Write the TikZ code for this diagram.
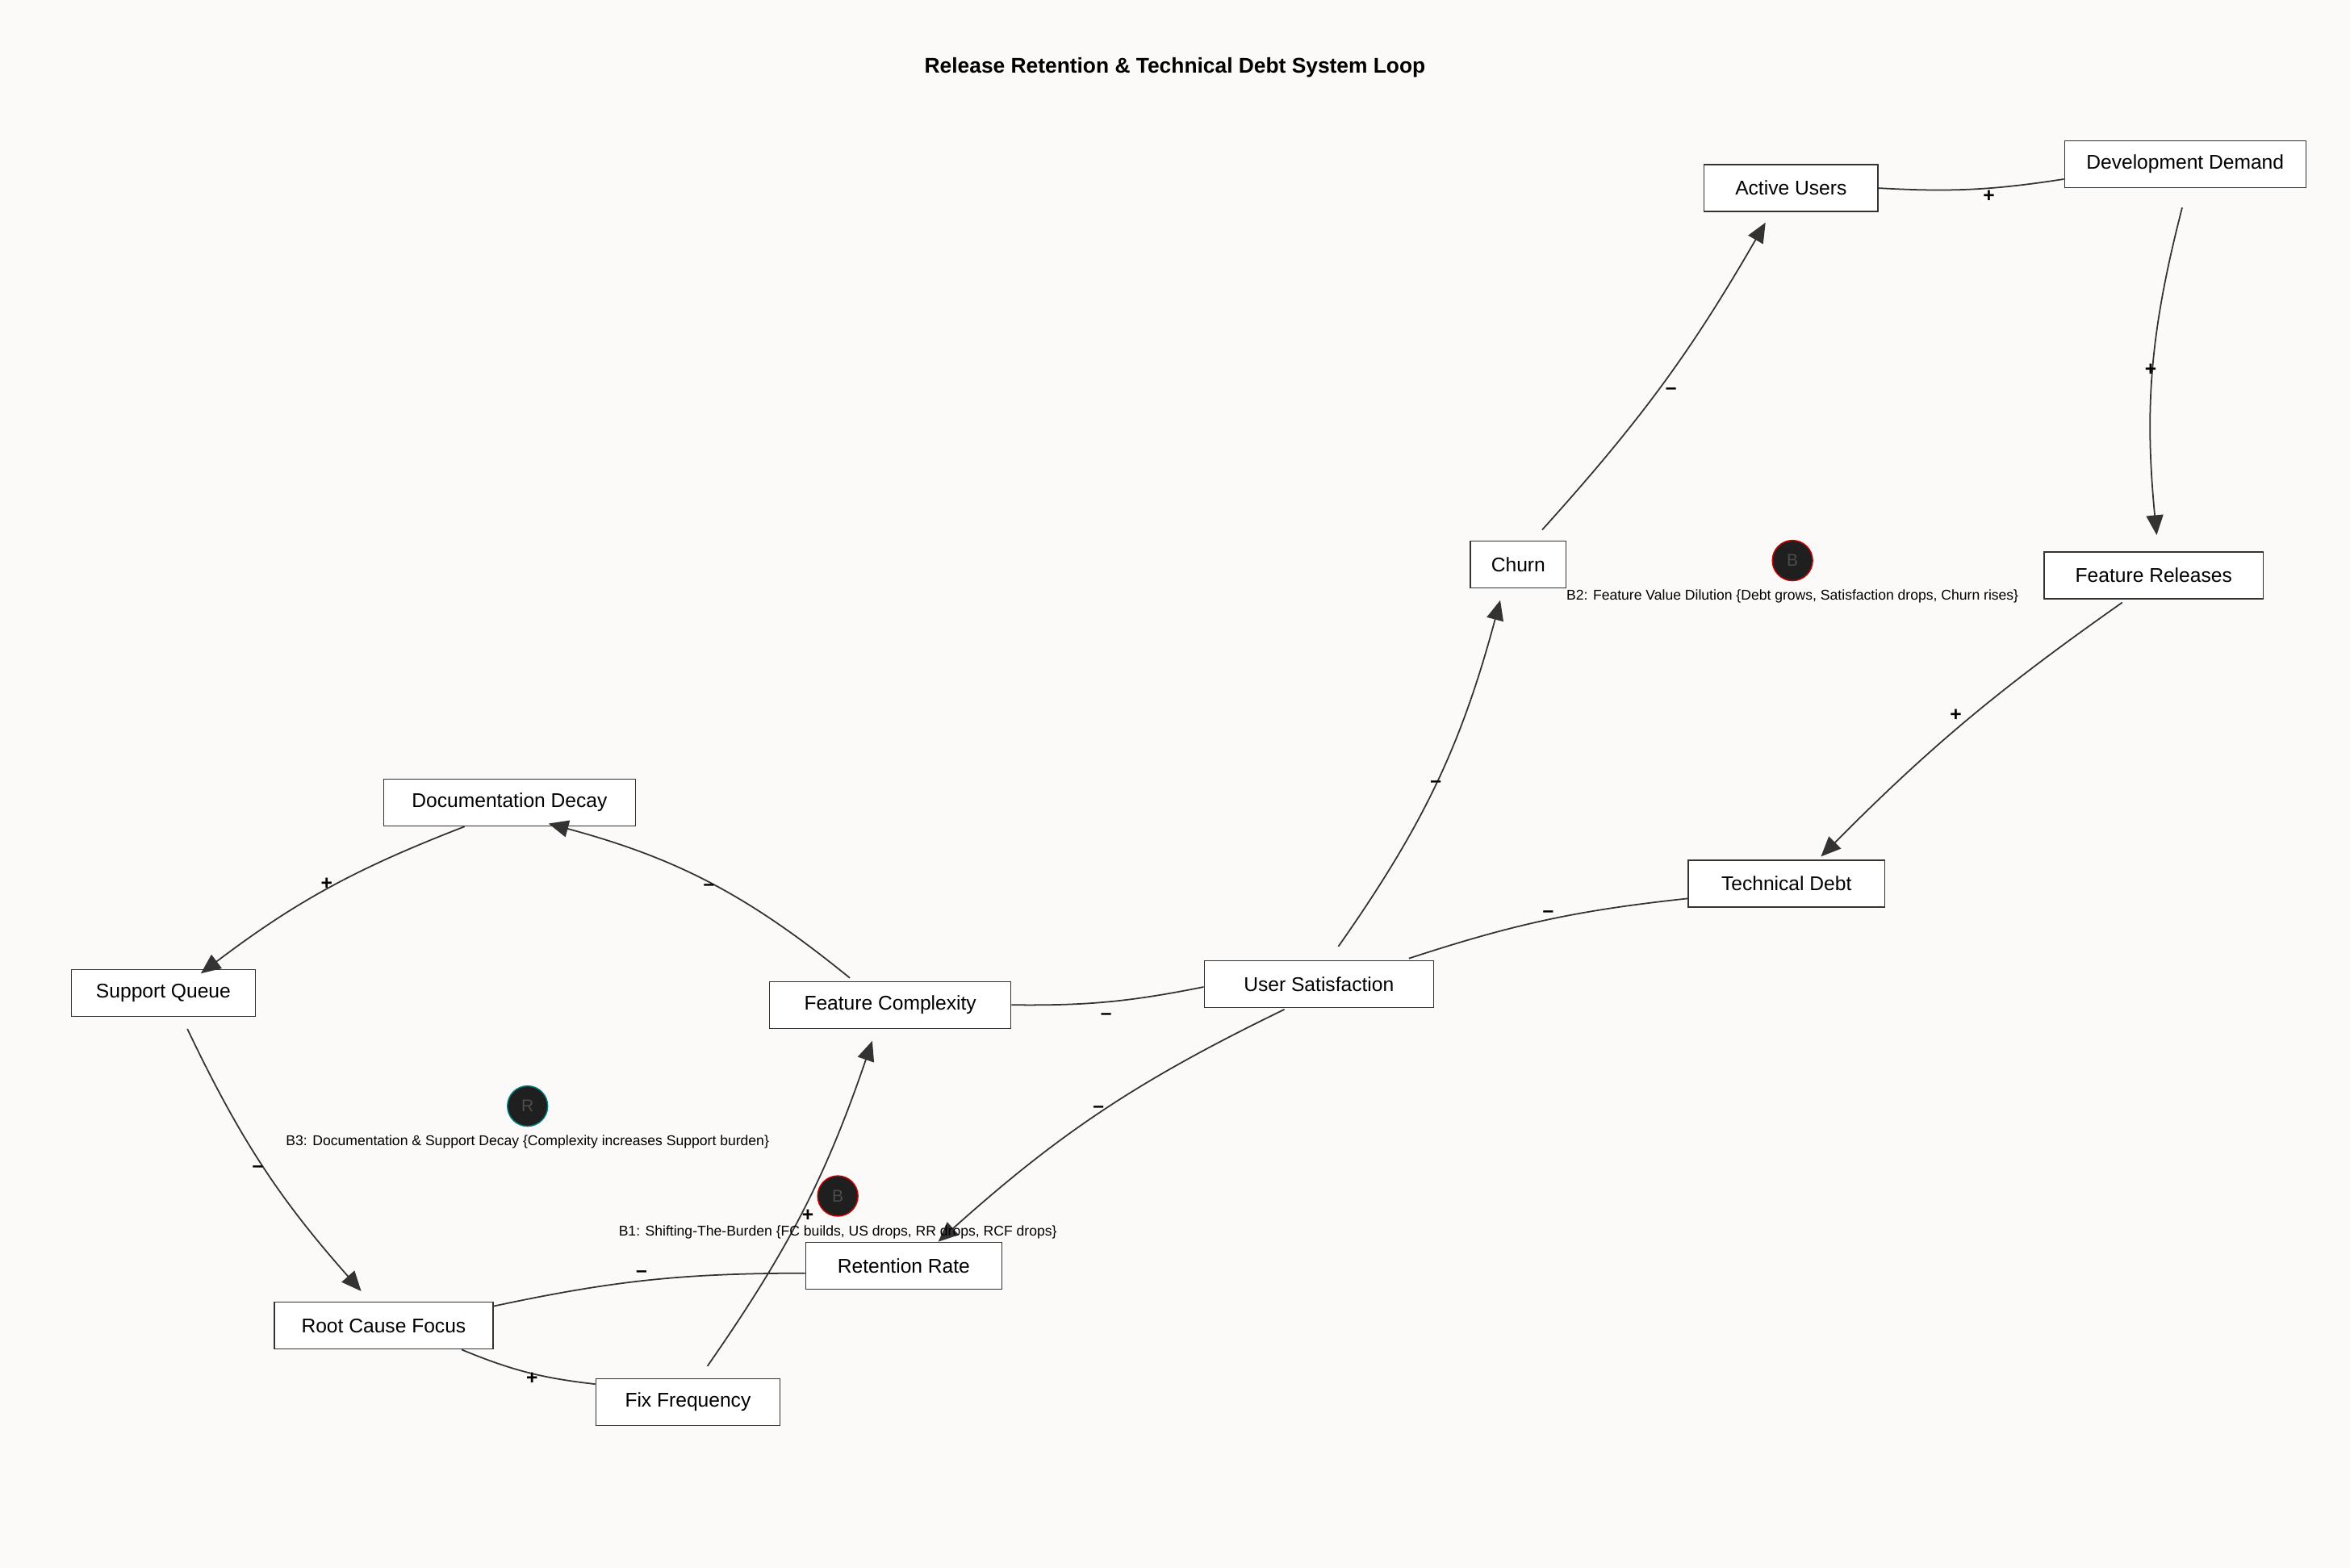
\documentclass[tikz,border=0pt]{standalone}
\usepackage{fontspec}
\setmainfont{Liberation Sans}
\usetikzlibrary{arrows.meta}
\definecolor{bgpaper}{HTML}{FBFAF8}
\definecolor{ink}{HTML}{333333}
\begin{document}
\begin{tikzpicture}[
        x=0.018571cm, y=-0.018571cm,
        var/.style={rectangle, draw=ink, fill=white, inner sep=0pt, minimum height=0.58cm, font=\fontsize{7}{8}\selectfont},
        sgn/.style={font=\fontsize{7}{8}\selectfont\bfseries},
        link/.style={ink, line width=0.5pt},
        arrow/.style={link, -{Triangle[length=7pt, width=6pt]}},
        loopmark/.style={circle, fill=black!88, draw=#1, minimum size=0.5cm, inner sep=0pt, font=\fontsize{6}{7}\selectfont, text=black!70},
        looptxt/.style={font=\fontsize{5}{6}\selectfont}
    ]
        \fill[bgpaper] (0,0) rectangle (1568,1046);
        \node[font=\fontsize{7.5}{9}\selectfont\bfseries] (title) at (784,45) {Release Retention \& Technical Debt System Loop};

        % Variables
        \node[var, minimum width=116*0.018571cm] (au) at (1195,125.5) {Active Users};
        \node[var, minimum width=161*0.018571cm] (dd) at (1458,109.5) {Development Demand};
        \node[var, minimum width=64*0.018571cm] (ch) at (1013,376.5) {Churn};
        \node[var, minimum width=146*0.018571cm] (fr) at (1437,384) {Feature Releases};
        \node[var, minimum width=131*0.018571cm] (td) at (1192,589.5) {Technical Debt};
        \node[var, minimum width=153*0.018571cm] (us) at (880,656.5) {User Satisfaction};
        \node[var, minimum width=161*0.018571cm] (fc) at (594,670.5) {Feature Complexity};
        \node[var, minimum width=168*0.018571cm] (doc) at (340,535.5) {Documentation Decay};
        \node[var, minimum width=123*0.018571cm] (sq) at (109,662.5) {Support Queue};
        \node[var, minimum width=146*0.018571cm] (rcf) at (256,884.5) {Root Cause Focus};
        \node[var, minimum width=123*0.018571cm] (ff) at (459,935.5) {Fix Frequency};
        \node[var, minimum width=131*0.018571cm] (rr) at (603,844.5) {Retention Rate};

        % Links
        \draw[link] ([shift={(0,0)}]au.east) to[bend right=6] ([shift={(0,10)}]dd.west);
        \draw[arrow] ([shift={(-2,13)}]dd.south) to[bend right=10] ([shift={(2,-11)}]fr.north);
        \draw[arrow] ([shift={(-21,2)}]fr.south) to[bend right=5] ([shift={(23,-2)}]td.north);
        \draw[link] ([shift={(0,10)}]td.west) to[bend right=6] ([shift={(60,-1)}]us.north);
        \draw[arrow] ([shift={(13,-9)}]us.north) to[bend right=10] ([shift={(-12,8)}]ch.south);
        \draw[arrow] ([shift={(16,-7)}]ch.north) to[bend right=6] ([shift={(-17,7)}]au.south);
        \draw[arrow] ([shift={(-23,1)}]us.south) to[bend right=8] ([shift={(23,0)}]rr.north);
        \draw[link] (fc.east) to[bend right=6] ([shift={(0,2)}]us.west);
        \draw[arrow] ([shift={(-27,-2)}]fc.north) to[bend right=12] ([shift={(26,-2)}]doc.south);
        \draw[arrow] ([shift={(-30,0)}]doc.south) to[bend right=8] ([shift={(25,3)}]sq.north);
        \draw[arrow] ([shift={(16,8)}]sq.south) to[bend right=8] ([shift={(-15,-7)}]rcf.north);
        \draw[link] ([shift={(0,5)}]rr.west) to[bend right=6] ([shift={(0,-13)}]rcf.east);
        \draw[link] ([shift={(52,0)}]rcf.south) to[bend right=8] ([shift={(0,-12)}]ff.west);
        \draw[arrow] ([shift={(13,-8)}]ff.north) to[bend right=8] ([shift={(-12,8)}]fc.south);

        % Polarity
        \node[sgn] (s1) at (1327,131) {+};
        \node[sgn] (s2) at (1435,247) {+};
        \node[sgn] (s3) at (1305,477) {+};
        \node[sgn] (s4) at (1033,610) {--};
        \node[sgn] (s5) at (958,523) {--};
        \node[sgn] (s6) at (1115,261) {--};
        \node[sgn] (s7) at (733,740) {--};
        \node[sgn] (s8) at (738,678) {--};
        \node[sgn] (s9) at (473,592) {--};
        \node[sgn] (s10) at (218,590) {+};
        \node[sgn] (s11) at (172,780) {--};
        \node[sgn] (s12) at (428,850) {--};
        \node[sgn] (s13) at (355,920) {+};
        \node[sgn] (s14) at (539,811) {+};

        % Loops
        \node[loopmark=red!80!black] (b2) at (1196,374) {B};
        \node[looptxt] (b2t) at (1196,398) {B2: Feature Value Dilution \{Debt grows, Satisfaction drops, Churn rises\}};
        \node[loopmark=teal] (b3) at (352,738) {R};
        \node[looptxt] (b3t) at (352,762) {B3: Documentation \& Support Decay \{Complexity increases Support burden\}};
        \node[loopmark=red!80!black] (b1) at (559,798) {B};
        \node[looptxt] (b1t) at (559,822) {B1: Shifting-The-Burden \{FC builds, US drops, RR drops, RCF drops\}};
\end{tikzpicture}
\end{document}
